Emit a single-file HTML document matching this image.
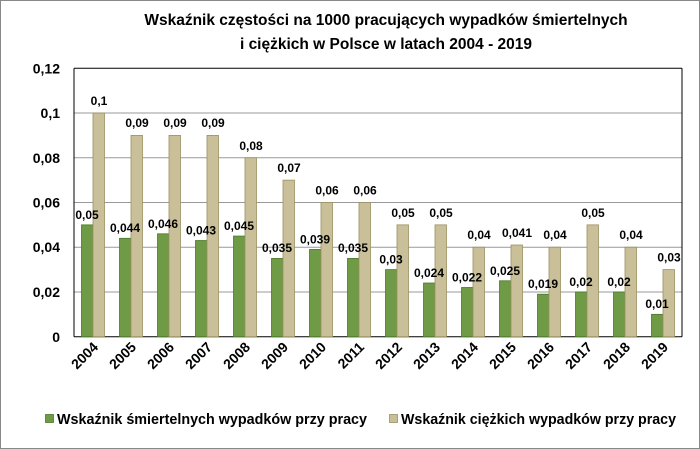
<!DOCTYPE html><html><head><style>body{margin:0}svg{display:block;font-family:"Liberation Sans",sans-serif;font-weight:bold}.g{fill:#6f9a46;stroke:#4a7a2a;stroke-width:.8}.t{fill:#c9c09a;stroke:#9b9060;stroke-width:.8}.l{font-size:12px}.y{font-size:14px}.x{font-size:14px}</style></head><body>
<svg width="700" height="449" viewBox="0 0 700 449">
<rect x="0.5" y="0.5" width="699" height="448" fill="#fff" stroke="#888"/>
<text x="386" y="25" text-anchor="middle" font-size="15.5">Wskaźnik częstości na 1000 pracujących wypadków śmiertelnych</text>
<text x="386" y="49" text-anchor="middle" font-size="15.5">i ciężkich w Polsce w latach 2004 - 2019</text>
<g stroke="#999">
<line x1="74" x2="682" y1="291.97" y2="291.97"/><line x1="74" x2="682" y1="247.23" y2="247.23"/><line x1="74" x2="682" y1="202.5" y2="202.5"/><line x1="74" x2="682" y1="157.77" y2="157.77"/><line x1="74" x2="682" y1="113.03" y2="113.03"/></g>
<g stroke="#000"><line x1="74" x2="682" y1="68.3" y2="68.3"/><line x1="74" x2="682" y1="336.7" y2="336.7"/><line x1="74" x2="74" y1="68.3" y2="336.7"/><line x1="682" x2="682" y1="68.3" y2="336.7"/></g>
<g class="y" text-anchor="end">
<text x="60" y="342">0</text><text x="60" y="297">0,02</text><text x="60" y="252">0,04</text><text x="60" y="207.5">0,06</text><text x="60" y="163">0,08</text><text x="60" y="118">0,1</text><text x="60" y="73.3">0,12</text></g>
<g>
<rect class="g" x="81.5" y="224.87" width="11.5" height="111.83"/><rect class="t" x="93" y="113.03" width="11.5" height="223.67"/>
<rect class="g" x="119.5" y="238.29" width="11.5" height="98.41"/><rect class="t" x="131" y="135.4" width="11.5" height="201.3"/>
<rect class="g" x="157.5" y="233.81" width="11.5" height="102.89"/><rect class="t" x="169" y="135.4" width="11.5" height="201.3"/>
<rect class="g" x="195.5" y="240.52" width="11.5" height="96.18"/><rect class="t" x="207" y="135.4" width="11.5" height="201.3"/>
<rect class="g" x="233.5" y="236.05" width="11.5" height="100.65"/><rect class="t" x="245" y="157.77" width="11.5" height="178.93"/>
<rect class="g" x="271.5" y="258.42" width="11.5" height="78.28"/><rect class="t" x="283" y="180.13" width="11.5" height="156.57"/>
<rect class="g" x="309.5" y="249.47" width="11.5" height="87.23"/><rect class="t" x="321" y="202.5" width="11.5" height="134.2"/>
<rect class="g" x="347.5" y="258.42" width="11.5" height="78.28"/><rect class="t" x="359" y="202.5" width="11.5" height="134.2"/>
<rect class="g" x="385.5" y="269.6" width="11.5" height="67.1"/><rect class="t" x="397" y="224.87" width="11.5" height="111.83"/>
<rect class="g" x="423.5" y="283.02" width="11.5" height="53.68"/><rect class="t" x="435" y="224.87" width="11.5" height="111.83"/>
<rect class="g" x="461.5" y="287.49" width="11.5" height="49.21"/><rect class="t" x="473" y="247.23" width="11.5" height="89.47"/>
<rect class="g" x="499.5" y="280.78" width="11.5" height="55.92"/><rect class="t" x="511" y="245.0" width="11.5" height="91.7"/>
<rect class="g" x="537.5" y="294.2" width="11.5" height="42.5"/><rect class="t" x="549" y="247.23" width="11.5" height="89.47"/>
<rect class="g" x="575.5" y="291.97" width="11.5" height="44.73"/><rect class="t" x="587" y="224.87" width="11.5" height="111.83"/>
<rect class="g" x="613.5" y="291.97" width="11.5" height="44.73"/><rect class="t" x="625" y="247.23" width="11.5" height="89.47"/>
<rect class="g" x="651.5" y="314.33" width="11.5" height="22.37"/><rect class="t" x="663" y="269.6" width="11.5" height="67.1"/>
</g>
<g class="l" text-anchor="middle">
<text x="87" y="219">0,05</text><text x="99" y="105">0,1</text>
<text x="125" y="232">0,044</text><text x="137" y="127">0,09</text>
<text x="163" y="228">0,046</text><text x="175" y="127">0,09</text>
<text x="201" y="234.5">0,043</text><text x="213" y="127">0,09</text>
<text x="239" y="230">0,045</text><text x="251" y="150">0,08</text>
<text x="277" y="252">0,035</text><text x="289" y="172">0,07</text>
<text x="315" y="243.5">0,039</text><text x="327" y="194.5">0,06</text>
<text x="353" y="252">0,035</text><text x="365" y="194.5">0,06</text>
<text x="391" y="263.5">0,03</text><text x="403" y="217">0,05</text>
<text x="429" y="277">0,024</text><text x="441" y="217">0,05</text>
<text x="467" y="281.5">0,022</text><text x="479" y="239">0,04</text>
<text x="505" y="275">0,025</text><text x="517" y="237">0,041</text>
<text x="543" y="288">0,019</text><text x="555" y="239">0,04</text>
<text x="581" y="286">0,02</text><text x="593" y="217">0,05</text>
<text x="619" y="286">0,02</text><text x="631" y="239">0,04</text>
<text x="657" y="308">0,01</text><text x="669" y="261.5">0,03</text>
</g>
<g class="x" text-anchor="end">
<text transform="translate(99,348) rotate(-45)">2004</text>
<text transform="translate(137,348) rotate(-45)">2005</text>
<text transform="translate(175,348) rotate(-45)">2006</text>
<text transform="translate(213,348) rotate(-45)">2007</text>
<text transform="translate(251,348) rotate(-45)">2008</text>
<text transform="translate(289,348) rotate(-45)">2009</text>
<text transform="translate(327,348) rotate(-45)">2010</text>
<text transform="translate(365,348) rotate(-45)">2011</text>
<text transform="translate(403,348) rotate(-45)">2012</text>
<text transform="translate(441,348) rotate(-45)">2013</text>
<text transform="translate(479,348) rotate(-45)">2014</text>
<text transform="translate(517,348) rotate(-45)">2015</text>
<text transform="translate(555,348) rotate(-45)">2016</text>
<text transform="translate(593,348) rotate(-45)">2017</text>
<text transform="translate(631,348) rotate(-45)">2018</text>
<text transform="translate(669,348) rotate(-45)">2019</text>
</g>
<rect class="g" x="45.5" y="414.5" width="8" height="8"/><text x="57" y="424" font-size="14.5" textLength="310" lengthAdjust="spacingAndGlyphs">Wskaźnik śmiertelnych wypadków przy pracy</text>
<rect class="t" x="389.5" y="414.5" width="8" height="8"/><text x="401" y="424" font-size="14.5" textLength="275" lengthAdjust="spacingAndGlyphs">Wskaźnik ciężkich wypadków przy pracy</text>
</svg></body></html>
